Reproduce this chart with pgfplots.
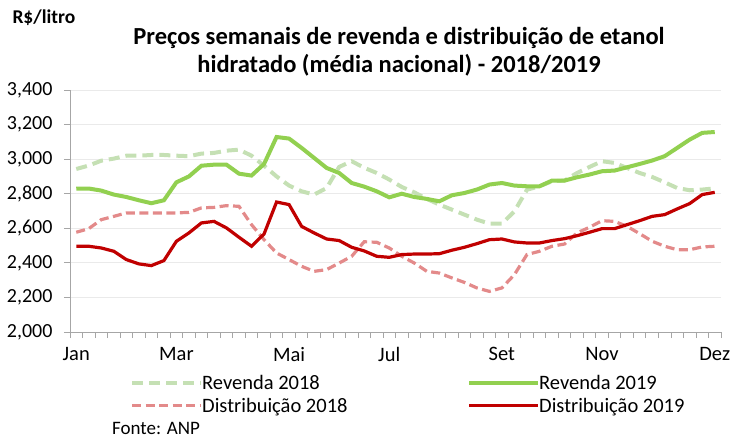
\documentclass[border=0pt]{standalone}
\usepackage{pgfplots}
\pgfplotsset{compat=1.18}
\usepackage{fontspec}
\setmainfont{Carlito}
\definecolor{g19}{HTML}{92D050}
\definecolor{g18}{HTML}{C5E0B4}
\definecolor{r19}{HTML}{C00000}
\definecolor{r18}{HTML}{E38A8A}
\definecolor{axgray}{HTML}{A6A6A6}
\definecolor{gridgray}{HTML}{EAEAEA}
\begin{document}
\begin{tikzpicture}
\begin{axis}[
  scale only axis, width=651bp, height=242bp,
  at={(0,0)}, anchor=south west,
  xmin=-0.5, xmax=51.5, ymin=2000, ymax=3400,
  axis lines*=left,
  axis line style={axgray, line width=0.8bp},
  ytick={2000,2200,2400,2600,2800,3000,3200,3400},
  yticklabels={{2,000},{2,200},{2,400},{2,600},{2,800},{3,000},{3,200},{3,400}},
  ymajorgrids, grid style={gridgray, line width=0.9bp},
  xtick={0,8,17,25,34,42,51},
  xticklabels={Jan,Mar,Mai,Jul,Set,Nov,Dez},
  major x tick style={draw=none},
  minor xtick={-0.5,0.5,...,51.5},
  minor x tick style={axgray, line width=0.8bp},
  major y tick style={axgray, line width=0.8bp},
  tick align=outside,
  major tick length=6bp, minor tick length=6bp,
  ticklabel style={font=\fontsize{20.5bp}{24bp}\selectfont},
  yticklabel style={font=\fontsize{20bp}{24bp}\selectfont, xshift=-8bp},
  /pgf/number format/assume math mode=true,
  xticklabel style={yshift=-6bp},
  clip=false,
  legend columns=2,
  legend style={at={(60bp,-41bp)}, anchor=north west, draw=none, fill=none,
    font=\fontsize{20.5bp}{24bp}\selectfont, inner sep=0pt, row sep=3bp,
    /tikz/every odd column/.append style={column sep=-3bp}},
  legend cell align=left,
  legend image code/.code={\draw[#1] (0bp,0bp) -- (69bp,0bp);},
]
% Revenda 2018
\addplot[g18, line width=4bp, dash pattern=on 11bp off 6bp] coordinates {
(0,2943)(1,2963)(2,2991)(3,3003)(4,3020)(5,3020)(6,3024)(7,3024)(8,3020)(9,3017)
(10,3032)(11,3036)(12,3049)(13,3055)(14,3020)(15,2962)(16,2900)(17,2847)(18,2814)(19,2795)
(20,2833)(21,2955)(22,2988)(23,2950)(24,2920)(25,2882)(26,2839)(27,2808)(28,2770)(29,2737)
(30,2708)(31,2679)(32,2650)(33,2627)(34,2627)(35,2698)(36,2823)(37,2843)(38,2872)(39,2876)
(40,2920)(41,2955)(42,2988)(43,2978)(44,2949)(45,2920)(46,2897)(47,2866)(48,2833)(49,2820)
(50,2824)(51,2831)};
\addlegendentry{\makebox[263bp][l]{Revenda 2018}}
% Revenda 2019
\addplot[g19, line width=4bp] coordinates {
(0,2829)(1,2830)(2,2818)(3,2795)(4,2781)(5,2762)(6,2745)(7,2762)(8,2866)(9,2900)
(10,2962)(11,2968)(12,2968)(13,2916)(14,2905)(15,2972)(16,3128)(17,3119)(18,3065)(19,3007)
(20,2949)(21,2920)(22,2862)(23,2841)(24,2814)(25,2779)(26,2800)(27,2781)(28,2770)(29,2756)
(30,2791)(31,2804)(32,2824)(33,2853)(34,2862)(35,2847)(36,2843)(37,2843)(38,2876)(39,2876)
(40,2895)(41,2911)(42,2930)(43,2934)(44,2953)(45,2972)(46,2992)(47,3017)(48,3065)(49,3113)
(50,3152)(51,3157)};
\addlegendentry{Revenda 2019}
% Distribuicao 2018
\addplot[r18, line width=3.2bp, dash pattern=on 9bp off 4.5bp] coordinates {
(0,2577)(1,2598)(2,2650)(3,2669)(4,2689)(5,2689)(6,2689)(7,2689)(8,2689)(9,2692)
(10,2718)(11,2721)(12,2731)(13,2727)(14,2621)(15,2534)(16,2457)(17,2419)(18,2380)(19,2351)
(20,2361)(21,2399)(22,2438)(23,2522)(24,2519)(25,2486)(26,2438)(27,2399)(28,2351)(29,2341)
(30,2313)(31,2287)(32,2255)(33,2235)(34,2255)(35,2332)(36,2448)(37,2467)(38,2496)(39,2509)
(40,2573)(41,2606)(42,2644)(43,2640)(44,2611)(45,2569)(46,2525)(47,2496)(48,2476)(49,2476)
(50,2492)(51,2496)};
\addlegendentry{\makebox[263bp][l]{Distribuição 2018}}
% Distribuicao 2019
\addplot[r19, line width=3.2bp] coordinates {
(0,2496)(1,2496)(2,2486)(3,2467)(4,2419)(5,2394)(6,2384)(7,2413)(8,2525)(9,2573)
(10,2631)(11,2640)(12,2602)(13,2548)(14,2496)(15,2567)(16,2752)(17,2737)(18,2611)(19,2573)
(20,2538)(21,2529)(22,2490)(23,2469)(24,2438)(25,2432)(26,2448)(27,2451)(28,2451)(29,2453)
(30,2473)(31,2490)(32,2511)(33,2534)(34,2538)(35,2521)(36,2515)(37,2515)(38,2529)(39,2540)
(40,2557)(41,2577)(42,2598)(43,2598)(44,2621)(45,2644)(46,2669)(47,2679)(48,2712)(49,2743)
(50,2795)(51,2808)};
\addlegendentry{Distribuição 2019}
\end{axis}
\node[anchor=west, font=\fontsize{19.5bp}{22bp}\selectfont\bfseries] at (-61bp,314bp) {R\$/litro};
\node[align=center, font=\fontsize{24.5bp}{28bp}\selectfont\bfseries] at (329bp,280bp)
  {Preços semanais de revenda e distribuição de etanol\\hidratado (média nacional) - 2018/2019};
\node[anchor=west, inner sep=0pt, font=\fontsize{19bp}{22bp}\selectfont] at (42bp,-96bp) {Fonte: ANP};
\pgfresetboundingbox
\path[use as bounding box] (-70bp,-107bp) rectangle (663bp,332bp);
\end{tikzpicture}
\end{document}
